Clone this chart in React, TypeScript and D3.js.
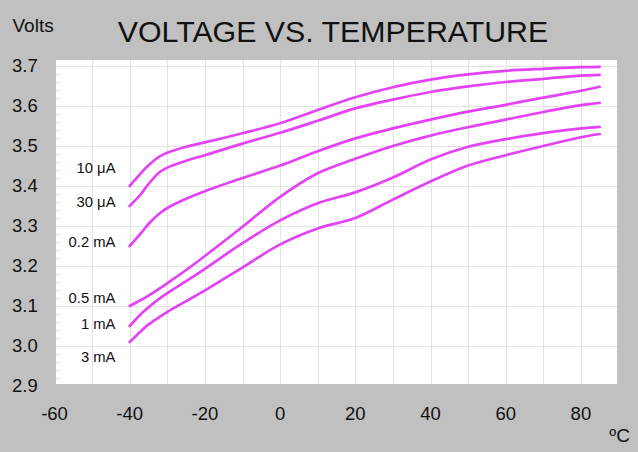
import React, { useEffect, useRef } from "react";
import * as d3 from "d3";

// temperature samples (°C) shared by all curves
const temps = [-40, -37, -35, -32, -30, -25, -20, -10, 0, 10, 20, 30, 40, 50, 60, 70, 80, 85];

const names = ["10 μA", "30 μA", "0.2 mA", "0.5 mA", "1 mA", "3 mA"];

const v10uA = [3.4, 3.432, 3.452, 3.474, 3.483, 3.498, 3.509, 3.532, 3.557, 3.59, 3.622, 3.647, 3.666, 3.679, 3.688, 3.693, 3.697, 3.698];
const v30uA = [3.35, 3.38, 3.405, 3.435, 3.446, 3.463, 3.477, 3.506, 3.533, 3.563, 3.594, 3.616, 3.635, 3.649, 3.66, 3.668, 3.676, 3.678];
const v02mA = [3.25, 3.282, 3.305, 3.332, 3.345, 3.368, 3.387, 3.42, 3.451, 3.487, 3.519, 3.544, 3.566, 3.586, 3.603, 3.621, 3.638, 3.648];
const v05mA = [3.1, 3.115, 3.126, 3.144, 3.157, 3.19, 3.225, 3.298, 3.373, 3.432, 3.468, 3.5, 3.526, 3.547, 3.566, 3.585, 3.602, 3.608];
const v1mA = [3.05, 3.08, 3.097, 3.119, 3.132, 3.162, 3.193, 3.257, 3.314, 3.357, 3.384, 3.421, 3.466, 3.498, 3.517, 3.532, 3.544, 3.548];
const v3mA = [3.01, 3.037, 3.054, 3.073, 3.085, 3.112, 3.139, 3.196, 3.254, 3.294, 3.32, 3.366, 3.411, 3.451, 3.477, 3.5, 3.522, 3.53];

const series = [v10uA, v30uA, v02mA, v05mA, v1mA, v3mA];

// where each curve's name sits, in volts, left of the -40 °C start
const labelAt = [3.445, 3.36, 3.26, 3.12, 3.056, 2.974];

const xTicks = [-60, -40, -20, 0, 20, 40, 60, 80];
const yTicks = [2.9, 3.0, 3.1, 3.2, 3.3, 3.4, 3.5, 3.6, 3.7];

const W = 638;
const H = 452;
const FONT = "'Liberation Sans', Arial, sans-serif";
const LINE = "#e442f5";

export default function App() {
  const svgRef = useRef<SVGSVGElement>(null);

  useEffect(() => {
    const svg = d3.select(svgRef.current);
    svg.selectAll("*").remove();

    const x = d3.scaleLinear().domain([-60, 90]).range([54.5, 618.5]);
    const y = d3.scaleLinear().domain([2.9, 3.7]).range([386, 66]);
    const plot = { left: 56, right: 617, top: 60, bottom: 384 };

    svg.append("rect").attr("width", W).attr("height", H).attr("fill", "#c0c0c0");
    svg
      .append("rect")
      .attr("x", plot.left)
      .attr("y", plot.top)
      .attr("width", plot.right - plot.left)
      .attr("height", plot.bottom - plot.top)
      .attr("fill", "#fff");

    // grid
    const grid = svg.append("g").attr("stroke", "#e3e3e3").attr("stroke-width", 1);
    d3.range(-50, 90, 10).forEach((t) => {
      grid
        .append("line")
        .attr("x1", Math.round(x(t)) + 0.5)
        .attr("x2", Math.round(x(t)) + 0.5)
        .attr("y1", plot.top)
        .attr("y2", plot.bottom);
    });
    d3.range(3.0, 3.71, 0.1).forEach((v) => {
      grid
        .append("line")
        .attr("x1", plot.left)
        .attr("x2", plot.right)
        .attr("y1", Math.round(y(v)) + 0.5)
        .attr("y2", Math.round(y(v)) + 0.5);
    });
    // minor ticks on the left edge
    d3.range(2.92, 3.7, 0.02).forEach((v) => {
      grid
        .append("line")
        .attr("x1", plot.left)
        .attr("x2", plot.left + 5)
        .attr("y1", Math.round(y(v)) + 0.5)
        .attr("y2", Math.round(y(v)) + 0.5);
    });

    // curves
    const line = d3
      .line<number>()
      .x((d, i) => x(temps[i]))
      .y((d) => y(d))
      .curve(d3.curveCatmullRom.alpha(0.5));

    series.forEach((s) => {
      svg
        .append("path")
        .datum(s)
        .attr("fill", "none")
        .attr("stroke", LINE)
        .attr("stroke-width", 2.7)
        .attr("stroke-linecap", "round")
        .attr("d", line);
    });

    // curve names
    names.forEach((n, i) => {
      svg
        .append("text")
        .attr("x", 115.5)
        .attr("y", y(labelAt[i]))
        .attr("dy", "0.35em")
        .attr("text-anchor", "end")
        .attr("font-family", FONT)
        .attr("font-size", 14.8)
        .attr("fill", "#111")
        .text(n);
    });

    // axis labels
    yTicks.forEach((v) => {
      svg
        .append("text")
        .attr("x", 12)
        .attr("y", y(v))
        .attr("dy", "0.35em")
        .attr("font-family", FONT)
        .attr("font-size", 18.5)
        .attr("fill", "#111")
        .text(d3.format(".1f")(v));
    });
    xTicks.forEach((t) => {
      svg
        .append("text")
        .attr("x", x(t))
        .attr("y", 420)
        .attr("text-anchor", "middle")
        .attr("font-family", FONT)
        .attr("font-size", 18.5)
        .attr("fill", "#111")
        .text(t);
    });

    svg
      .append("text")
      .attr("x", 630)
      .attr("y", 442)
      .attr("text-anchor", "end")
      .attr("font-family", FONT)
      .attr("font-size", 19)
      .attr("fill", "#111")
      .text("ºC");
    svg
      .append("text")
      .attr("x", 12.5)
      .attr("y", 32)
      .attr("font-family", FONT)
      .attr("font-size", 19)
      .attr("fill", "#111")
      .text("Volts");
    svg
      .append("text")
      .attr("x", 333)
      .attr("y", 42)
      .attr("text-anchor", "middle")
      .attr("font-family", FONT)
      .attr("font-size", 30.3)
      .attr("fill", "#111")
      .text("VOLTAGE VS. TEMPERATURE");
  }, []);

  return (
    <svg
      ref={svgRef}
      width={W}
      height={H}
      style={{ position: "fixed", left: 0, top: 0, display: "block" }}
    />
  );
}
